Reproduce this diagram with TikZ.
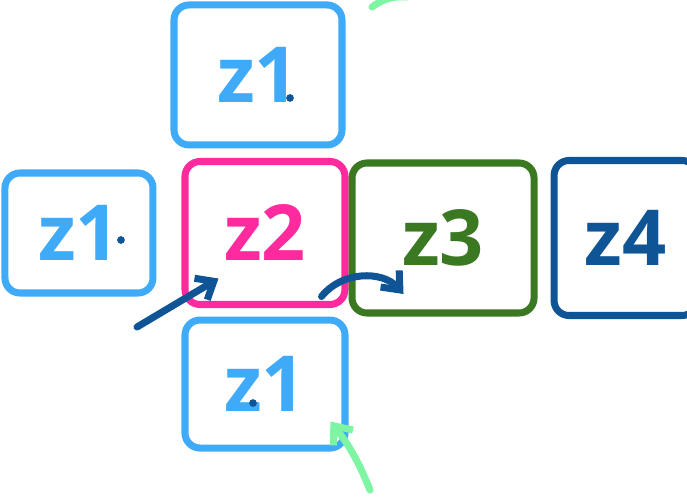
\documentclass[tikz,border=0pt]{standalone}
\usepackage{fontspec}
\setmainfont{Open Sans}
\usepackage{xcolor}
\definecolor{zlight}{HTML}{3FAAF7}
\definecolor{zpink}{HTML}{FF2A9D}
\definecolor{zgreen}{HTML}{3A7822}
\definecolor{zdark}{HTML}{0F5595}
\definecolor{zmint}{HTML}{7DF5A2}
\usepackage{tikz}
\usetikzlibrary{arrows.meta,positioning,calc}

\begin{document}
\begin{tikzpicture}[>={Straight Barb[length=3mm,width=5mm]},node distance=2mm and 2mm]
\tikzset{
 cell/.style={draw=#1,text=#1,line width=4pt,rounded corners=3mm,line cap=round,inner sep=0pt,
   font=\fontsize{44}{46}\selectfont\bfseries},
 arrow/.style={->,line width=4pt,line cap=round,line join=round}
}
\useasboundingbox (0,0) rectangle (13.74,9.98);
\node[cell=zpink,minimum width=3.2cm,minimum height=2.86cm] (z2) at (5.3,5.32) {z2};
\node[cell=zgreen,minimum width=3.64cm,minimum height=3cm,right=0mm of z2,yshift=-1mm] (z3) {z3};
\node[cell=zdark,minimum width=2.86cm,minimum height=3.1cm,right=2.6mm of z3] (z4) {z4};
\node[cell=zlight,minimum width=3.36cm,minimum height=2.8cm,above=1.9mm of z2,xshift=-1.4mm] (top) {z1};
\node[cell=zlight,minimum width=3.2cm,minimum height=2.56cm,below=1.7mm of z2] (bot) {z1};
\node[cell=zlight,minimum width=2.96cm,minimum height=2.4cm,left=5mm of z2] (lft) {z1};
% dots
\fill[zdark] ($(top.center)+(0.64,-0.46)$) circle (2.2pt);
\fill[zdark] ($(lft.center)+(0.84,-0.14)$) circle (2.2pt);
\fill[zdark] ($(bot.center)+(-0.24,-0.38)$) circle (2.2pt);
% arrows
\coordinate (in) at (2.74,3.44);
\coordinate (tail) at (7.4,0.18);
\coordinate (mark) at (7.44,9.84);
\draw[arrow,zdark] (in) -- ($(z2.south west)+(0.74,0.59)$);
\draw[arrow,zdark] ($(z2.south east)+(-0.54,0.23)$) to[bend left=50] ($(z3.south west)+(1.1,0.45)$);
\draw[arrow,zmint] (tail) to[bend right=8] ($(bot.south east)+(-0.36,0.6)$);
\draw[zmint,line width=4pt,line cap=round] (mark) to[bend left=20] ++(0.7,0.2);
\end{tikzpicture}
\end{document}
